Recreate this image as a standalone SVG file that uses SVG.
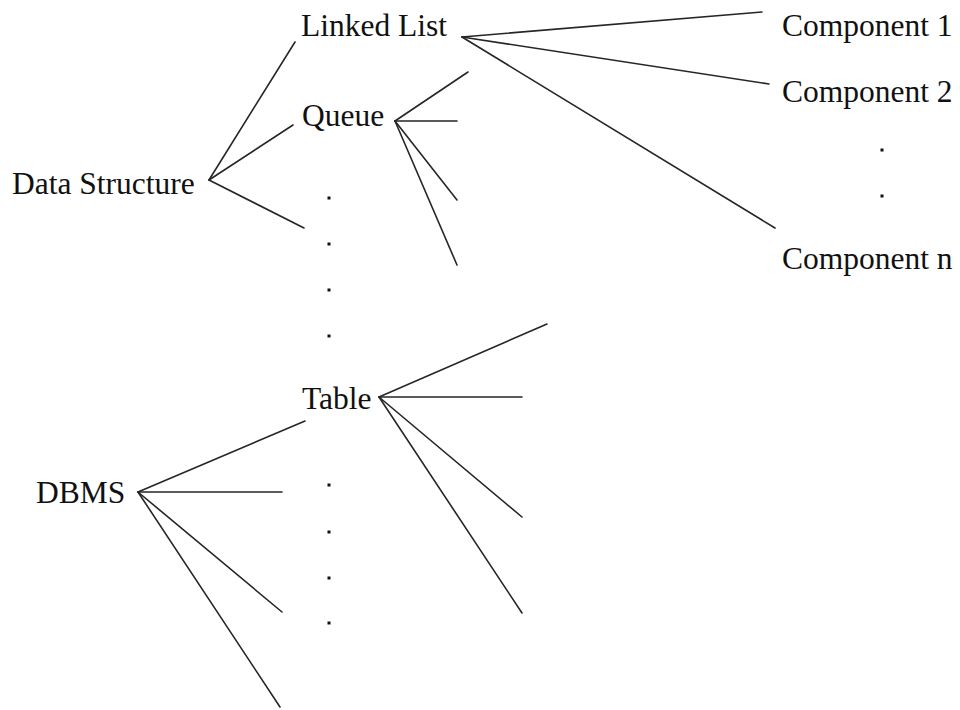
<svg xmlns="http://www.w3.org/2000/svg" width="960" height="710" viewBox="0 0 960 710">
<style>
.t{font-family:"Liberation Serif","Times New Roman",serif;font-size:31.5px;fill:#111}
.c line{stroke:#262626;stroke-width:1.6;stroke-linecap:round}
.d rect{fill:#111}
</style>
<rect width="960" height="710" fill="#fff"/>
<g id="connectors" class="c">
<line x1="209" y1="180" x2="295" y2="42"/>
<line x1="209" y1="180" x2="293" y2="125"/>
<line x1="209" y1="180" x2="304" y2="228"/>
<line x1="462" y1="37" x2="762" y2="12"/>
<line x1="462" y1="37" x2="769" y2="84"/>
<line x1="462" y1="37" x2="775" y2="228"/>
<line x1="395" y1="121" x2="468" y2="72"/>
<line x1="395" y1="121" x2="457" y2="121"/>
<line x1="395" y1="121" x2="457" y2="200"/>
<line x1="395" y1="121" x2="457" y2="265"/>
<line x1="138" y1="492" x2="305" y2="421"/>
<line x1="138" y1="492" x2="282" y2="492"/>
<line x1="138" y1="492" x2="282" y2="612"/>
<line x1="138" y1="492" x2="280" y2="707"/>
<line x1="379" y1="397" x2="547" y2="324"/>
<line x1="379" y1="397" x2="522" y2="397"/>
<line x1="379" y1="397" x2="522" y2="517"/>
<line x1="379" y1="397" x2="522" y2="613"/>
</g>
<g id="data-structure"><text class="t" x="12" y="194">Data Structure</text></g>
<g id="linked-list"><text class="t" x="301" y="36">Linked List</text></g>
<g id="queue"><text class="t" x="302" y="126">Queue</text></g>
<g id="table"><text class="t" x="302" y="409">Table</text></g>
<g id="dbms"><text class="t" x="36" y="503">DBMS</text></g>
<g id="component-1"><text class="t" x="782" y="36">Component 1</text></g>
<g id="component-2"><text class="t" x="782" y="102">Component 2</text></g>
<g id="component-n"><text class="t" x="782" y="269">Component n</text></g>
<g id="dots" class="d">
<rect x="327.5" y="196.5" width="3" height="3"/>
<rect x="327.5" y="242.5" width="3" height="3"/>
<rect x="327.5" y="288.5" width="3" height="3"/>
<rect x="327.5" y="334.5" width="3" height="3"/>
<rect x="327.5" y="483.5" width="3" height="3"/>
<rect x="327.5" y="530.5" width="3" height="3"/>
<rect x="327.5" y="576.5" width="3" height="3"/>
<rect x="327.5" y="621.5" width="3" height="3"/>
<rect x="880.5" y="148.5" width="3" height="3"/>
<rect x="880.5" y="194.5" width="3" height="3"/>
</g>
</svg>
